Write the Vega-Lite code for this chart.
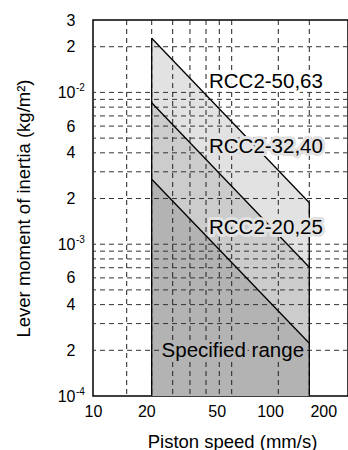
{
  "$schema": "https://vega.github.io/schema/vega-lite/v6.json",
  "width": 255,
  "height": 376,
  "autosize": {"type": "none"},
  "padding": {"left": 93, "top": 20, "right": 0, "bottom": 54},
  "background": "white",
  "config": {
    "view": {"stroke": "black", "strokeWidth": 1.5},
    "font": "Liberation Sans"
  },
  "datasets": {
    "areas": [
      {"s": "a50", "x": 21.46, "y": 0.02273},
      {"s": "a50", "x": 166.7, "y": 0.001877},
      {"s": "a32", "x": 21.46, "y": 0.008557},
      {"s": "a32", "x": 166.7, "y": 0.0007047},
      {"s": "a20", "x": 21.46, "y": 0.002677},
      {"s": "a20", "x": 166.7, "y": 0.0002225}
    ],
    "vgrid": [
      {"x": 15.5}, {"x": 21.46}, {"x": 28.2}, {"x": 35.3}, {"x": 43.5},
      {"x": 51.7}, {"x": 60.75}, {"x": 111.4}, {"x": 166.7}
    ],
    "hgrid": [
      {"y": 0.0002}, {"y": 0.0003}, {"y": 0.0004}, {"y": 0.0005}, {"y": 0.0006},
      {"y": 0.0007}, {"y": 0.0008}, {"y": 0.0009}, {"y": 0.001}, {"y": 0.002},
      {"y": 0.003}, {"y": 0.004}, {"y": 0.005}, {"y": 0.006}, {"y": 0.007},
      {"y": 0.008}, {"y": 0.009}, {"y": 0.01}, {"y": 0.02}
    ],
    "edges": [
      {"x": 21.46, "y": 0.0001, "y2": 0.02273},
      {"x": 166.7, "y": 0.0001, "y2": 0.001877}
    ],
    "labels": [
      {"t": "RCC2-50,63", "bg": "white", "x": 45.2, "y": 0.01065},
      {"t": "RCC2-32,40", "bg": "light", "x": 45.2, "y": 0.00396},
      {"t": "RCC2-20,25", "bg": "light", "x": 45.2, "y": 0.001163},
      {"t": "Specified range", "bg": "dark", "x": 24.4, "y": 0.00018}
    ],
    "exps": [
      {"x": 10, "y": 0.01, "t": "-2"},
      {"x": 10, "y": 0.001, "t": "-3"},
      {"x": 10, "y": 0.0001, "t": "-4"}
    ]
  },
  "layer": [
    {
      "data": {"name": "areas"},
      "transform": [{"filter": "datum.s === 'a50'"}],
      "mark": {"type": "area", "fill": "#e2e2e2", "stroke": null},
      "encoding": {
        "x": {
          "field": "x", "type": "quantitative",
          "scale": {"type": "log", "domain": [10, 275.8], "nice": false},
          "axis": {
            "values": [10, 20, 50, 100, 200], "ticks": false, "grid": false, "domain": false,
            "labelFontSize": 16, "labelColor": "black", "labelPadding": 7,
            "labelFlush": false, "labelOverlap": false,
            "title": "Piston speed (mm/s)", "titleFontSize": 18.5, "titleFontWeight": "normal",
            "titleColor": "black", "titlePadding": 13, "titleX": 139
          }
        },
        "y": {
          "field": "y", "type": "quantitative",
          "scale": {"type": "log", "domain": [0.0001, 0.03], "nice": false},
          "axis": {
            "values": [0.0001, 0.0002, 0.0004, 0.0006, 0.001, 0.002, 0.004, 0.006, 0.01, 0.02, 0.03],
            "labelExpr": "round(datum.value / pow(10, floor(log(datum.value) / LN10 + 0.001))) == 1 ? '10' : '' + round(datum.value / pow(10, floor(log(datum.value) / LN10 + 0.001)))",
            "ticks": false, "grid": false, "domain": false,
            "labelFontSize": 16, "labelColor": "black", "labelPadding": 18,
            "labelFlush": false, "labelOverlap": false,
            "title": "Lever moment of inertia (kg/m²)", "titleFontSize": 18.5, "titleFontWeight": "normal",
            "titleColor": "black", "titlePadding": 24
          }
        },
        "y2": {"datum": 0.0001}
      }
    },
    {
      "data": {"name": "areas"},
      "transform": [{"filter": "datum.s === 'a32'"}],
      "mark": {"type": "area", "fill": "#cccccc", "stroke": null},
      "encoding": {
        "x": {"field": "x", "type": "quantitative"},
        "y": {"field": "y", "type": "quantitative"},
        "y2": {"datum": 0.0001}
      }
    },
    {
      "data": {"name": "areas"},
      "transform": [{"filter": "datum.s === 'a20'"}],
      "mark": {"type": "area", "fill": "#b3b3b3", "stroke": null},
      "encoding": {
        "x": {"field": "x", "type": "quantitative"},
        "y": {"field": "y", "type": "quantitative"},
        "y2": {"datum": 0.0001}
      }
    },
    {
      "data": {"name": "vgrid"},
      "mark": {"type": "rule", "color": "#222222", "strokeWidth": 1, "strokeDash": [5, 4]},
      "encoding": {"x": {"field": "x", "type": "quantitative"}}
    },
    {
      "data": {"name": "hgrid"},
      "mark": {"type": "rule", "color": "#333333", "strokeWidth": 1, "strokeDash": [5, 4]},
      "encoding": {"y": {"field": "y", "type": "quantitative"}}
    },
    {
      "data": {"name": "areas"},
      "mark": {"type": "line", "color": "black", "strokeWidth": 1.3},
      "encoding": {
        "x": {"field": "x", "type": "quantitative"},
        "y": {"field": "y", "type": "quantitative"},
        "detail": {"field": "s"}
      }
    },
    {
      "data": {"name": "edges"},
      "mark": {"type": "rule", "color": "black", "strokeWidth": 1.3},
      "encoding": {
        "x": {"field": "x", "type": "quantitative"},
        "y": {"field": "y", "type": "quantitative"},
        "y2": {"field": "y2"}
      }
    },
    {
      "data": {"name": "labels"},
      "mark": {"type": "text", "align": "left", "baseline": "alphabetic", "fontSize": 20.5, "strokeWidth": 6, "strokeJoin": "round"},
      "encoding": {
        "x": {"field": "x", "type": "quantitative"},
        "y": {"field": "y", "type": "quantitative"},
        "text": {"field": "t"},
        "fill": {"field": "bg", "type": "nominal", "scale": {"domain": ["white", "light", "dark"], "range": ["#ffffff", "#e2e2e2", "#b3b3b3"]}, "legend": null},
        "stroke": {"field": "bg", "type": "nominal", "scale": {"domain": ["white", "light", "dark"], "range": ["#ffffff", "#e2e2e2", "#b3b3b3"]}, "legend": null}
      }
    },
    {
      "data": {"name": "labels"},
      "mark": {"type": "text", "align": "left", "baseline": "alphabetic", "fontSize": 20.5, "color": "black"},
      "encoding": {
        "x": {"field": "x", "type": "quantitative"},
        "y": {"field": "y", "type": "quantitative"},
        "text": {"field": "t"}
      }
    },
    {
      "data": {"name": "exps"},
      "mark": {"type": "text", "align": "left", "baseline": "alphabetic", "fontSize": 10, "dx": -17, "dy": -1, "color": "black"},
      "encoding": {
        "x": {"field": "x", "type": "quantitative"},
        "y": {"field": "y", "type": "quantitative"},
        "text": {"field": "t"}
      }
    }
  ]
}
